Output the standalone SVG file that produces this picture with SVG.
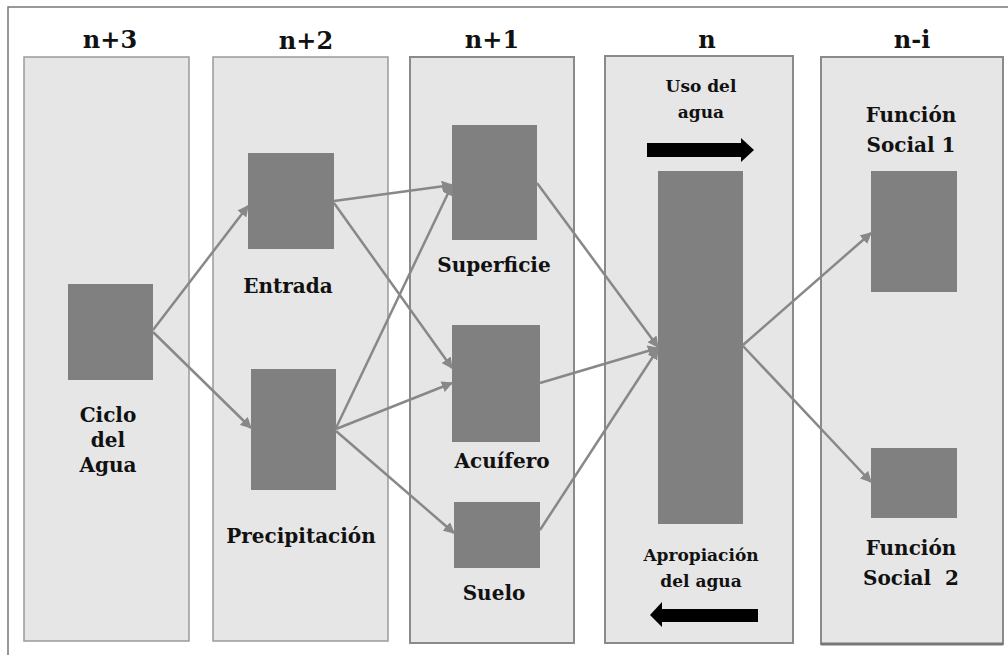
<svg xmlns="http://www.w3.org/2000/svg" width="1008" height="657" viewBox="0 0 1008 657">
<style>
.col{fill:#e6e6e6;stroke:#9a9a9a;stroke-width:1.5}
.colb{fill:#e6e6e6;stroke:#8a8a8a;stroke-width:2}
.box{fill:#808080}
.hdr{font-family:"DejaVu Serif","Liberation Serif",serif;font-weight:bold;font-size:24px;fill:#111;text-anchor:middle}
.lbl{font-family:"DejaVu Serif","Liberation Serif",serif;font-weight:bold;font-size:20px;fill:#111;text-anchor:middle}
.sm{font-family:"DejaVu Serif","Liberation Serif",serif;font-weight:bold;font-size:17px;fill:#111;text-anchor:middle}
.con{stroke:#888;stroke-width:2.5;fill:none;marker-end:url(#ah)}
</style>
<defs>
<marker id="ah" viewBox="0 0 10 10" refX="9" refY="5" markerWidth="4.5" markerHeight="4.5" orient="auto" markerUnits="strokeWidth">
<path d="M0,0 L10,5 L0,10 z" fill="#888"/>
</marker>
</defs>
<rect width="1008" height="657" fill="#fff"/>
<path d="M8,655 L8,7 L1008,7" fill="none" stroke="#777" stroke-width="1.5"/>
<g id="col-n3"><rect class="col" x="24" y="57" width="165" height="584"/><text class="hdr" x="110" y="48">n+3</text></g>
<g id="col-n2"><rect class="col" x="213" y="57" width="175" height="584"/><text class="hdr" x="306" y="49">n+2</text></g>
<g id="col-n1"><rect class="colb" x="410" y="57" width="164" height="586"/><text class="hdr" x="492" y="48">n+1</text></g>
<g id="col-n"><rect class="colb" x="605" y="56" width="188" height="587"/><text class="hdr" x="707" y="48">n</text></g>
<g id="col-ni"><rect class="colb" x="821" y="57" width="182" height="587"/><line x1="821" y1="644" x2="1003" y2="644" stroke="#777" stroke-width="3"/><text class="hdr" x="912" y="48">n-i</text></g>
<g id="ciclo"><rect class="box" x="68" y="284" width="85" height="96"/><text class="lbl" x="108" y="422">Ciclo</text><text class="lbl" x="108" y="447">del</text><text class="lbl" x="108" y="472">Agua</text></g>
<g id="entrada"><rect class="box" x="248" y="153" width="86" height="96"/><text class="lbl" x="288" y="293">Entrada</text></g>
<g id="precipitacion"><rect class="box" x="251" y="369" width="85" height="121"/><text class="lbl" x="301" y="543">Precipitación</text></g>
<g id="superficie"><rect class="box" x="452" y="125" width="85" height="115"/><text class="lbl" x="494" y="272">Superficie</text></g>
<g id="acuifero"><rect class="box" x="452" y="325" width="88" height="117"/><text class="lbl" x="502" y="468">Acuífero</text></g>
<g id="suelo"><rect class="box" x="454" y="502" width="86" height="66"/><text class="lbl" x="494" y="600">Suelo</text></g>
<g id="apropiacion"><rect class="box" x="658" y="171" width="85" height="353"/>
<text class="sm" x="701" y="92">Uso del</text><text class="sm" x="701" y="118">agua</text>
<path d="M647,143 L741,143 L741,138 L754,150 L741,162 L741,157 L647,157 z" fill="#000"/>
<text class="sm" x="701" y="561">Apropiación</text><text class="sm" x="701" y="587">del agua</text>
<path d="M758,609 L662,609 L662,602 L650,615 L662,627 L662,622 L758,622 z" fill="#000"/>
</g>
<g id="fs1"><text class="lbl" x="911" y="122">Función</text><text class="lbl" x="911" y="152">Social 1</text><rect class="box" x="871" y="171" width="86" height="121"/></g>
<g id="fs2"><rect class="box" x="871" y="448" width="86" height="70"/><text class="lbl" x="911" y="555">Función</text><text class="lbl" x="911" y="585" xml:space="preserve">Social  2</text></g>
<g id="connectors">
<line class="con" x1="153" y1="330" x2="248" y2="206"/>
<line class="con" x1="153" y1="332" x2="251" y2="428"/>
<line class="con" x1="334" y1="201" x2="452" y2="185"/>
<line class="con" x1="334" y1="203" x2="452" y2="368"/>
<line class="con" x1="336" y1="428" x2="452" y2="185"/>
<line class="con" x1="336" y1="429" x2="452" y2="383"/>
<line class="con" x1="336" y1="431" x2="454" y2="533"/>
<line class="con" x1="537" y1="183" x2="658" y2="347"/>
<line class="con" x1="540" y1="383" x2="658" y2="348"/>
<line class="con" x1="540" y1="530" x2="658" y2="349"/>
<line class="con" x1="743" y1="345" x2="871" y2="233"/>
<line class="con" x1="743" y1="346" x2="871" y2="482"/>
</g>
</svg>
